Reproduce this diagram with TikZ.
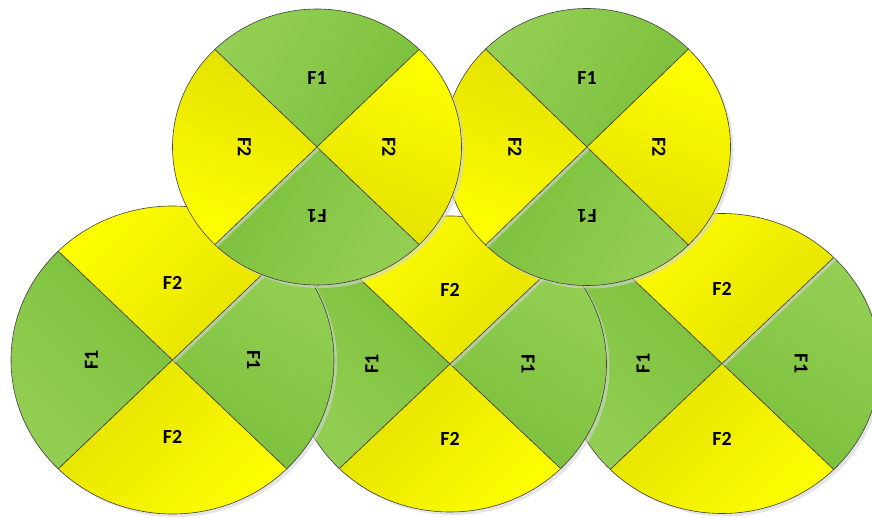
\documentclass[tikz,border=0pt]{standalone}
\usepackage{fontspec}
\setmainfont{Carlito}
\usetikzlibrary{calc}

\definecolor{grnL}{RGB}{148,207,84}
\definecolor{grnD}{RGB}{124,192,60}
\definecolor{yelB}{RGB}{255,255,0}
\definecolor{yelD}{RGB}{228,224,0}
\definecolor{edgec}{RGB}{64,64,64}

\begin{document}
\begin{tikzpicture}[x=1pt, y=1pt,
    edge/.style={draw=edgec, line width=0.6pt},
    shd/.style={fill=black!17, fill opacity=0.6},
    lbl/.style={font=\fontsize{20}{24}\selectfont\bfseries, inner sep=0pt},
    gsec/.style={top color=grnL, bottom color=grnD, shading angle=#1},
    ysec/.style={top color=yelB, bottom color=yelD, shading angle=#1}]
    \clip (0,0) rectangle (872,517);

    % 扇形: 圆心, x 半径, y 半径, 起始角, 填充
    \def\piesector#1#2#3#4#5{\shadedraw[edge,#5] (#1) -- ++(#4:#2 and #3)
        arc[start angle=#4, delta angle=90, x radius=#2, y radius=#3] -- cycle;}
    % 整圆阴影
    \def\pieshadow#1#2#3{\fill[shd] ([shift={(3,-3)}]#1) ellipse[x radius=#2, y radius=#3];}
    % 扇形投在相邻扇形上的阴影
    \def\pieband#1#2#3#4{\begin{scope}
        \clip (#1) ellipse[x radius=#2, y radius=#3];
        \fill[shd] ([shift={(2.5,-2.5)}]#1) -- ++(#4:#2 and #3)
            arc[start angle=#4, delta angle=90, x radius=#2, y radius=#3] -- cycle;
        \end{scope}}

    % 下排右
    \coordinate (br) at (722,153.5);
    \pieshadow{br}{158}{150}
    \piesector{br}{158}{150}{-45}{gsec=-30}
    \piesector{br}{158}{150}{135}{gsec=135}
    \piesector{br}{158}{150}{225}{ysec=225}
    \pieband{br}{158}{150}{45}
    \piesector{br}{158}{150}{45}{ysec=45}
    \node[lbl] (brTop) at ($(br)+(0,75)$) {F2};
    \node[lbl] (brBot) at ($(br)+(0,-75)$) {F2};
    \node[lbl, rotate=90] (brLeft) at ($(br)+(-79,0)$) {F1};
    \node[lbl, rotate=-90] (brRight) at ($(br)+(79,0)$) {F1};

    % 下排中
    \coordinate (bm) at (450,153);
    \pieshadow{bm}{156.5}{148}
    \piesector{bm}{156.5}{148}{-45}{gsec=-30}
    \piesector{bm}{156.5}{148}{135}{gsec=135}
    \piesector{bm}{156.5}{148}{225}{ysec=225}
    \pieband{bm}{156.5}{148}{45}
    \piesector{bm}{156.5}{148}{45}{ysec=45}
    \node[lbl] (bmTop) at ($(bm)+(0,74.5)$) {F2};
    \node[lbl] (bmBot) at ($(bm)+(0,-74.5)$) {F2};
    \node[lbl, rotate=90] (bmLeft) at ($(bm)+(-78,0)$) {F1};
    \node[lbl, rotate=-90] (bmRight) at ($(bm)+(78,0)$) {F1};

    % 下排左
    \coordinate (bl) at (172.5,157);
    \pieshadow{bl}{161.5}{154}
    \piesector{bl}{161.5}{154}{-45}{gsec=-30}
    \piesector{bl}{161.5}{154}{135}{gsec=135}
    \piesector{bl}{161.5}{154}{225}{ysec=225}
    \pieband{bl}{161.5}{154}{45}
    \piesector{bl}{161.5}{154}{45}{ysec=45}
    \node[lbl] (blTop) at ($(bl)+(0,77)$) {F2};
    \node[lbl] (blBot) at ($(bl)+(0,-77)$) {F2};
    \node[lbl, rotate=90] (blLeft) at ($(bl)+(-81,0)$) {F1};
    \node[lbl, rotate=-90] (blRight) at ($(bl)+(81,0)$) {F1};

    % 上排右
    \coordinate (tr) at (587,370);
    \pieshadow{tr}{143.5}{138.5}
    \piesector{tr}{143.5}{138.5}{45}{gsec=60}
    \piesector{tr}{143.5}{138.5}{225}{gsec=240}
    \piesector{tr}{143.5}{138.5}{-45}{ysec=-20}
    \pieband{tr}{143.5}{138.5}{135}
    \piesector{tr}{143.5}{138.5}{135}{ysec=160}
    \node[lbl] (trTop) at ($(tr)+(0,69)$) {F1};
    \node[lbl, rotate=180] (trBot) at ($(tr)+(0,-69)$) {F1};
    \node[lbl, rotate=-90] (trLeft) at ($(tr)+(-72,0)$) {F2};
    \node[lbl, rotate=-90] (trRight) at ($(tr)+(72,0)$) {F2};

    % 上排左
    \coordinate (tl) at (317,370);
    \pieshadow{tl}{144.5}{138}
    \piesector{tl}{144.5}{138}{45}{gsec=60}
    \piesector{tl}{144.5}{138}{225}{gsec=240}
    \piesector{tl}{144.5}{138}{-45}{ysec=-20}
    \pieband{tl}{144.5}{138}{135}
    \piesector{tl}{144.5}{138}{135}{ysec=160}
    \node[lbl] (tlTop) at ($(tl)+(0,69)$) {F1};
    \node[lbl, rotate=180] (tlBot) at ($(tl)+(0,-69)$) {F1};
    \node[lbl, rotate=-90] (tlLeft) at ($(tl)+(-72.5,0)$) {F2};
    \node[lbl, rotate=-90] (tlRight) at ($(tl)+(72,0)$) {F2};
\end{tikzpicture}
\end{document}
